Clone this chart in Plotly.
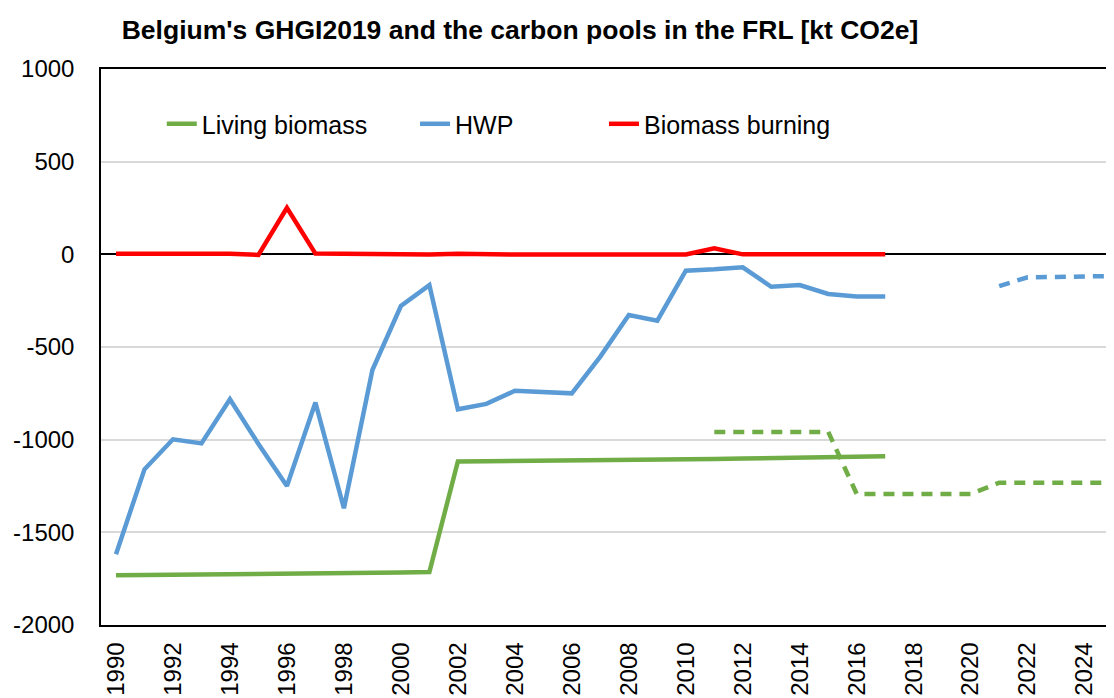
import plotly.graph_objects as go

years = list(range(1990, 2018))
living_biomass = [-1732, -1731, -1729, -1728, -1726, -1725, -1723, -1722, -1721, -1719, -1717, -1714,
                  -1118, -1117, -1116, -1114, -1113, -1112, -1110, -1108, -1106, -1104, -1102, -1100,
                  -1098, -1096, -1093, -1089]
hwp = [-1618, -1160, -998, -1020, -782, -1023, -1250, -800, -1370, -624, -279, -166,
       -836, -807, -736, -746, -750, -552, -327, -358, -88, -81, -70, -175,
       -166, -214, -228, -228]
biomass_burning = [3, 4, 4, 3, 3, -3, 251, 4, 3, -1, -1, -1,
                   3, -1, -1, -1, -1, -1, -1, -1, -1, 32, 0, 0,
                   0, 0, 0, 0]

frl_years_lb = list(range(2011, 2026))
frl_living_biomass = [-958, -958, -958, -958, -958, -1293, -1293, -1293, -1293, -1293,
                      -1232, -1232, -1232, -1232, -1232]
frl_years_hwp = list(range(2021, 2026))
frl_hwp = [-171, -124, -122, -120, -117]

tick_years = list(range(1990, 2026, 2))

GREEN = "#70AD47"
BLUE = "#5B9BD5"
RED = "#FF0000"
FONT = "Liberation Sans, Arial, sans-serif"

W, H = 1106, 690  # page body has an 8px margin; keep figure inside the viewport

fig = go.Figure()
fig.add_trace(go.Scatter(x=frl_years_lb, y=frl_living_biomass, mode="lines",
                         line=dict(color=GREEN, width=4.5, dash="11px,8px"), showlegend=False))
fig.add_trace(go.Scatter(x=frl_years_hwp, y=frl_hwp, mode="lines",
                         line=dict(color=BLUE, width=4.5, dash="11px,8px"), showlegend=False))
fig.add_trace(go.Scatter(x=years, y=living_biomass, mode="lines", name="Living biomass",
                         line=dict(color=GREEN, width=4.5), legend="legend"))
fig.add_trace(go.Scatter(x=years, y=hwp, mode="lines", name="HWP",
                         line=dict(color=BLUE, width=4.5), legend="legend2"))
fig.add_trace(go.Scatter(x=years, y=biomass_burning, mode="lines", name="Biomass burning",
                         line=dict(color=RED, width=4.5), legend="legend3"))

leg_common = dict(y=0.901, yanchor="middle", xanchor="left", bgcolor="rgba(0,0,0,0)",
                  font=dict(family=FONT, size=25, color="black"), itemwidth=30)

fig.update_layout(
    width=W, height=H,
    margin=dict(l=93, r=0, t=61, b=73),
    paper_bgcolor="white", plot_bgcolor="white",
    font=dict(family=FONT, size=24, color="black"),
    title=dict(text="<b>Belgium's GHGI2019 and the carbon pools in the FRL [kt CO2e]</b>",
               x=512 / W, xanchor="center", xref="container",
               y=1 - 22 / H, yanchor="middle", yref="container",
               font=dict(family=FONT, size=26.5, color="black")),
    legend=dict(x=0.060, **leg_common),
    legend2=dict(x=0.310, **leg_common),
    legend3=dict(x=0.4965, **leg_common),
    xaxis=dict(range=[1989.474, 2025.03], tickmode="array", tickvals=tick_years,
               ticktext=[str(y) for y in tick_years], tickangle=-90,
               showgrid=False, zeroline=False, showline=True, linecolor="black",
               linewidth=1.5, mirror=True, ticks="outside", ticklen=6,
               tickcolor="rgba(0,0,0,0)", tickfont=dict(size=24), automargin=False),
    yaxis=dict(range=[-2000, 1000], tickmode="array",
               tickvals=[-2000, -1500, -1000, -500, 0, 500, 1000],
               ticktext=["-2000", "-1500", "-1000", "-500", "0", "500", "1000"],
               showgrid=True, gridcolor="#D9D9D9", gridwidth=1.5,
               zeroline=True, zerolinecolor="black", zerolinewidth=1.5,
               showline=True, linecolor="black", linewidth=1.5,
               ticks="outside", ticklen=20, tickcolor="rgba(0,0,0,0)",
               tickfont=dict(size=24), automargin=False),
)

fig.write_html("out.html")
